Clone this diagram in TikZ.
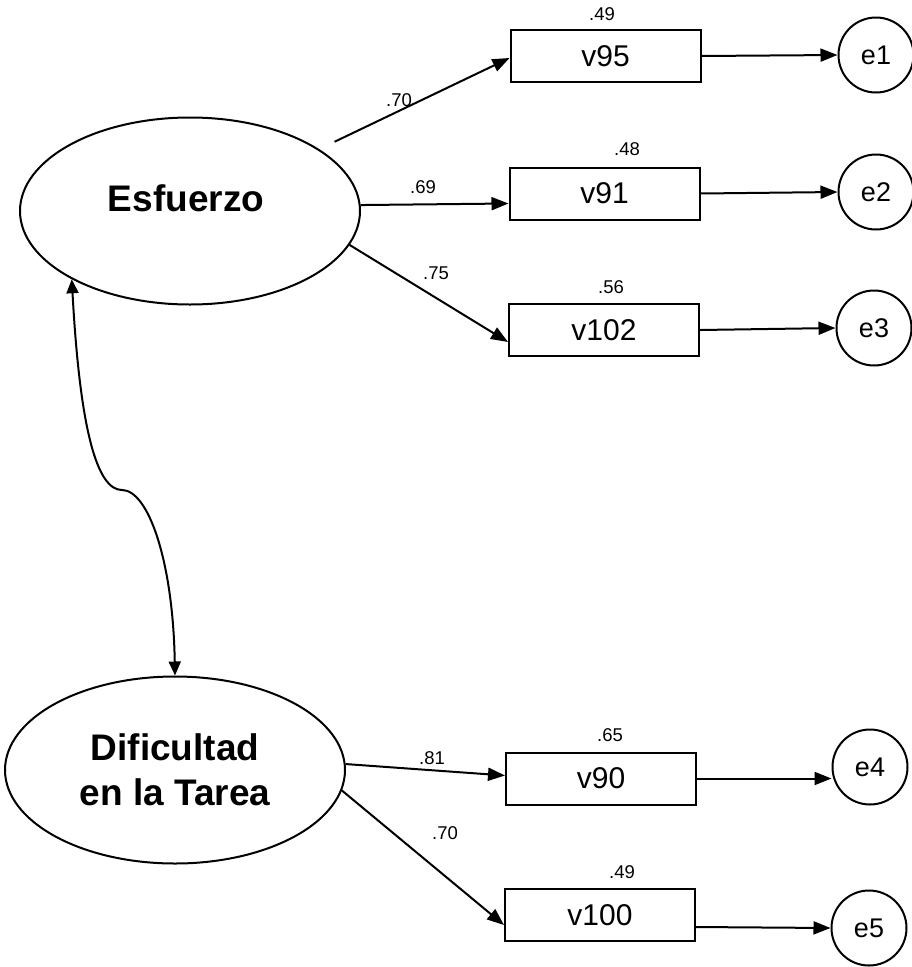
\documentclass[tikz,border=0pt]{standalone}
\usepackage{fontspec}
\setmainfont{Liberation Sans}
\usetikzlibrary{shapes.geometric,arrows.meta}
\begin{document}
\begin{tikzpicture}[x=1pt,y=-1pt,
  line width=2pt,
  latent/.style={draw, ellipse, minimum width=340pt, minimum height=187pt, inner sep=0pt},
  latlabel/.style={font=\fontsize{37}{45}\selectfont\bfseries, align=center, inner sep=0pt},
  observed/.style={draw, rectangle, minimum width=190pt, minimum height=52pt,
                   font=\fontsize{30}{32}\selectfont, inner sep=0pt},
  errvar/.style={draw, circle, minimum size=75pt, inner sep=0pt, font=\fontsize{27}{30}\selectfont},
  coef/.style={font=\fontsize{18.5}{20}\selectfont, inner sep=0pt},
  regpath/.style={-{Triangle[length=17pt,width=13pt]}},
  cov/.style={{Triangle[length=14pt,width=12pt]}-{Triangle[length=14pt,width=12pt]}},
]
\useasboundingbox (0,0) rectangle (911,967);

% latent factors
\node[latent] (esf) at (190,211) {};
\node[latlabel] (esflabel) at (186,198) {Esfuerzo};
\node[latent, latlabel] (dif) at (175,770) {Dificultad\\en la Tarea};

% observed indicators
\node[observed] (v95)  at (605.5,56)  {v95};
\node[observed] (v91)  at (604.5,193.5) {v91};
\node[observed] (v102) at (604,330)  {v102};
\node[observed] (v90)  at (601,778.5) {v90};
\node[observed] (v100) at (600,915)  {v100};

% error terms
\node[errvar] (e1) at (876,55)  {e1};
\node[errvar] (e2) at (876,192) {e2};
\node[errvar] (e3) at (874,328) {e3};
\node[errvar] (e4) at (870,767) {e4};
\node[errvar] (e5) at (869,928) {e5};

% squared multiple correlations
\node[coef] (r95)  at (602,14)  {.49};
\node[coef] (r91)  at (627,149) {.48};
\node[coef] (r102) at (611,287) {.56};
\node[coef] (r90)  at (610,735) {.65};
\node[coef] (r100) at (622,872) {.49};

% factor loadings
\draw[regpath, shorten <=17pt] (esf) -- ([yshift=-2pt]v95.west);
\draw[regpath] (esf.2) -- ([yshift=-10pt]v91.west);
\draw[regpath] (esf.-12) -- ([yshift=-12pt]v102.west);
\draw[regpath] (dif.2) -- ([yshift=3pt]v90.west);
\draw[regpath] (dif.-7) -- ([yshift=-10pt]v100.west);

\node[coef] (l95)  at (399,100) {.70};
\node[coef] (l91)  at (423,187) {.69};
\node[coef] (l102) at (436,273) {.75};
\node[coef] (l90)  at (432,758) {.81};
\node[coef] (l100) at (445,833) {.70};

% error paths
\draw[regpath] (v95.east) -- (e1.west);
\draw[regpath] (v91.east) -- (e2.west);
\draw[regpath] (v102.east) -- (e3.west);
\draw[regpath] (v90.east) -- (v90.east -| e4.west);
\draw[regpath] ([yshift=-12pt]v100.east) -- (e5.west);

% factor covariance
\coordinate (bend) at (122,490);
\draw[cov] (esf.210) .. controls (80,430) and (97,490) .. (bend)
           .. controls (148,490) and (173,560) .. (dif.north);
\end{tikzpicture}
\end{document}
